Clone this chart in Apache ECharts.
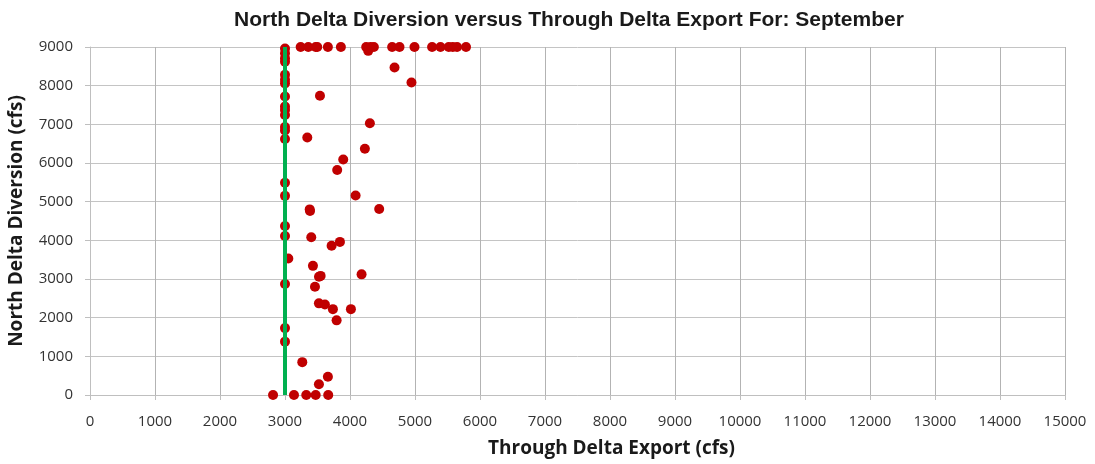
<!DOCTYPE html>
<html><head><meta charset="utf-8">
<script src="https://cdn.jsdelivr.net/npm/echarts@6/dist/echarts.min.js"></script>
<style>html,body{margin:0;padding:0;background:#fff}#c{width:1095px;height:464px}</style>
</head><body><div id="c"></div>
<script>
const title = 'North Delta Diversion versus Through Delta Export For: September';
const xName = 'Through Delta Export (cfs)';
const yName = 'North Delta Diversion (cfs)';
const exportCfs = [
  3241,3358,3472,3496,3660,3860,4249,4280,4316,4367,4648,4762,4992,5263,5392,5519,5581,5647,5785,
  3000,3000,3000,3000,3000,3000,3000,3000,3000,3000,3000,3000,3000,3000,3000,
  4685,4946,3538,3343,4306,4229,3896,3803,4086,3380,3385,4449,3000,3000,3000,3404,3845,3717,3051,3430,3523,3548,4178,
  3000,3461,3522,3614,3737,4014,3794,3000,3000,3266,3660,3522,
  2816,3138,3327,3472,3665
];
const diversionCfs = [
  9000,9000,9000,9000,9000,9000,9000,8900,9000,9000,9000,9000,9000,9000,9000,9000,9000,9000,9000,
  8960,8840,8710,8620,8280,8150,8060,7720,7460,7370,7240,6930,6840,6620,5490,
  8470,8080,7740,6660,7030,6370,6090,5820,5160,4800,4760,4810,5150,4370,4110,4080,3960,3860,3530,3340,3060,3080,3120,
  2870,2800,2370,2340,2220,2220,1930,1730,1380,850,470,280,
  0,0,0,0,0
];
const limitX = [3000, 3000];
const limitY = [0, 9000];
const points = exportCfs.map((x, i) => [x, diversionCfs[i]]);
const limitLine = limitX.map((x, i) => [x, limitY[i]]);
const chart = echarts.init(document.getElementById('c'));
chart.setOption({
  animation: false,
  backgroundColor: '#fff',
  title: { text: title, left: 564, textAlign: 'center', top: 5,
    textStyle: { fontFamily: 'Liberation Sans', fontWeight: 'bold', fontSize: 21, color: '#1a1a1a' } },
  grid: { left: 90, right: 30, top: 47, bottom: 69, outerBoundsMode: 'none', containLabel: false },
  xAxis: { type: 'value', min: 0, max: 15000, interval: 1000,
    name: xName, nameLocation: 'middle', nameGap: 44,
    nameTextStyle: { fontFamily: 'Open Sans', fontWeight: 'bold', fontSize: 19, color: '#1a1a1a',
      padding: [0, 0, 0, 68] },
    axisLine: { show: true, lineStyle: { color: '#bfbfbf' } },
    axisTick: { show: true, inside: false, length: 5, lineStyle: { color: '#bfbfbf' } },
    axisLabel: { fontFamily: 'Open Sans', fontSize: 15, color: '#333', margin: 19,
      formatter: v => String(v) },
    splitLine: { show: true, lineStyle: { color: '#b3b3b3' } } },
  yAxis: { type: 'value', min: 0, max: 9000, interval: 1000,
    name: yName, nameLocation: 'middle', nameGap: 64,
    nameTextStyle: { fontFamily: 'Open Sans', fontWeight: 'bold', fontSize: 19, color: '#1a1a1a' },
    axisLine: { show: true, lineStyle: { color: '#bfbfbf' } },
    axisTick: { show: true, inside: false, length: 5, lineStyle: { color: '#bfbfbf' } },
    axisLabel: { fontFamily: 'Open Sans', fontSize: 15, color: '#333', margin: 17,
      formatter: v => String(v) },
    splitLine: { show: true, lineStyle: { color: '#c4c4c4' } } },
  series: [
    { type: 'scatter', data: points, symbolSize: 10, itemStyle: { color: '#c00000', opacity: 1 }, z: 2 },
    { type: 'line', data: limitLine, symbol: 'none', lineStyle: { color: '#00b050', width: 4 }, z: 3 }
  ]
});
</script></body></html>
